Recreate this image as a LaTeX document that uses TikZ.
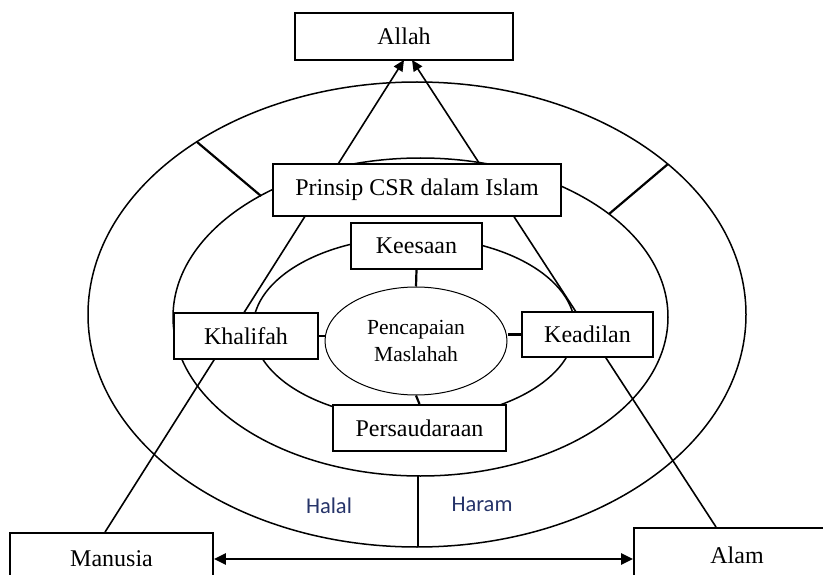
\documentclass[tikz,border=0pt]{standalone}
\usepackage{fontspec}
\setmainfont{Liberation Serif}
\newfontfamily\calib{Carlito}
\usetikzlibrary{arrows.meta,calc,shapes.geometric}
\definecolor{hhblue}{RGB}{38,52,105}
\begin{document}
\begin{tikzpicture}[x=1pt,y=-1pt,
  box/.style={draw,line width=1.9pt,fill=white,inner sep=0pt,font=\fontsize{24}{28}\selectfont},
  ring/.style={line width=1.5pt},
  link/.style={line width=1.6pt},
  tick/.style={line width=2.2pt},
  hh/.style={font=\calib\fontsize{22.5}{26}\selectfont,text=hhblue}]
\useasboundingbox (0,0) rectangle (823,575);
% rings
\draw[ring] (417,314.5) ellipse [x radius=329pt, y radius=232.5pt];
\draw[ring] (420.5,317) ellipse [x radius=247.5pt, y radius=159pt];
\draw[ring] (414,328) ellipse [x radius=161pt, y radius=91pt];
% ticks between rings
\draw[tick] (197,142) -- (261,196);
\draw[tick] (668,164) -- (609,214);
\draw[tick] (418,476) -- (418,547);
% nodes
\node[box,minimum width=218pt,minimum height=47pt] (allah) at (404,36.5) {Allah};
\node[box,minimum width=203pt,minimum height=52pt] (manusia) at (111.5,559) {Manusia};
\node[box,minimum width=206pt,minimum height=54pt] (alam) at (737,555) {Alam};
% lines to Allah
\draw[link,-{Triangle[length=11pt,width=10pt]}] ($(manusia.north west)+(96,0)$) -- ($(allah.south)+(0,-1)$);
\draw[link,-{Triangle[length=11pt,width=10pt]}] ($(alam.north west)+(83,0)$) -- ($(allah.south)+(8,-1)$);
% boxes on top
\node[box,minimum width=288pt,minimum height=52pt] (prinsip) at (417,190) {Prinsip CSR dalam Islam};
\node[box,minimum width=131pt,minimum height=46pt] (keesaan) at (416.5,246) {Keesaan};
\node[box,minimum width=144pt,minimum height=46pt] (khalifah) at (246,336) {Khalifah};
\node[box,minimum width=131pt,minimum height=45pt] (keadilan) at (587.5,334.5) {Keadilan};
\node[box,minimum width=173pt,minimum height=46pt] (persaudaraan) at (419.5,428) {Persaudaraan};
\node[draw,ellipse,line width=1pt,fill=white,minimum width=182pt,minimum height=108pt,inner sep=0pt,
  align=center,font=\fontsize{21.5}{27}\selectfont] (ell) at (416,341) {Pencapaian\\Maslahah};
% connectors to centre
\draw[tick] (keesaan.south) -- (ell.north);
\draw[tick] (ell.south) -- (persaudaraan.north);
\draw[tick] (khalifah.east) -- (khalifah.east -| ell.west);
\draw[tick] (keadilan.west) -- (keadilan.west -| ell.east);
% Manusia <-> Alam
\draw[line width=2.6pt,{Triangle[length=12pt,width=11pt]}-{Triangle[length=12pt,width=11pt]}] (manusia.east) -- (manusia.east -| alam.west);
% Halal / Haram
\node[hh] (halal) at (329,506) {Halal};
\node[hh] (haram) at (482,504) {Haram};
\end{tikzpicture}
\end{document}
